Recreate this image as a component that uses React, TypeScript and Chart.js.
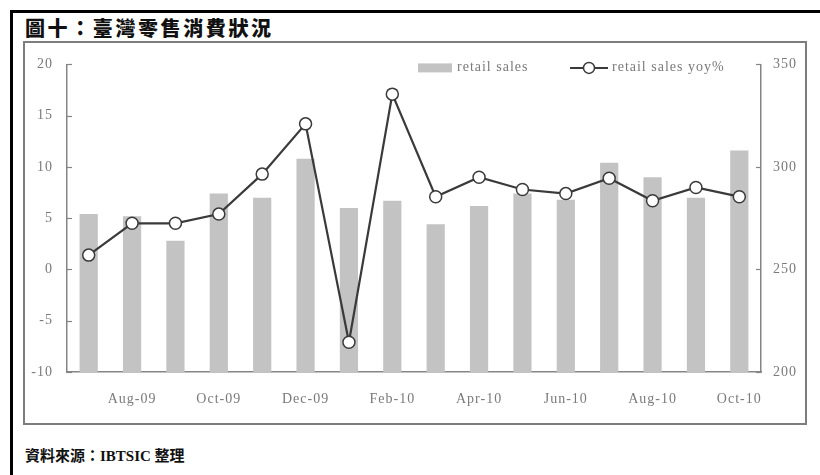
import React, { useEffect, useRef } from 'react';
import { Chart, registerables } from 'chart.js';

Chart.register(...registerables);

const titleText = '圖十：臺灣零售消費狀況';
const sourceText = '資料來源：IBTSIC 整理';

const months = ['Jul-09', 'Aug-09', 'Sep-09', 'Oct-09', 'Nov-09', 'Dec-09', 'Jan-10', 'Feb-10', 'Mar-10', 'Apr-10', 'May-10', 'Jun-10', 'Jul-10', 'Aug-10', 'Sep-10', 'Oct-10'];
const retailSales = [277, 276, 264, 287, 285, 304, 280, 283.5, 272, 281, 287, 284, 302, 295, 285, 308];
const retailSalesYoy = [1.4, 4.5, 4.5, 5.4, 9.3, 14.2, -7.1, 17.1, 7.1, 9.0, 7.8, 7.4, 8.9, 6.7, 8.0, 7.1];
const yoyTicks = [-10, -5, 0, 5, 10, 15, 20];
const salesTicks = [200, 250, 300, 350];
const seriesNames = ['retail sales', 'retail sales yoy%'];

const BAR_COLOR = '#c3c3c3';
const LINE_COLOR = '#3a3a3a';
const AXIS_COLOR = '#858585';
const TEXT_COLOR = '#7a7a7a';
const SERIF = "'Liberation Serif', 'Times New Roman', serif";

const spacingPlugin = {
  id: 'spacing',
  beforeDraw(chart: any) {
    (chart.ctx as any).letterSpacing = '1px';
  },
};

const insideTicks = {
  id: 'insideTicks',
  beforeDatasetsDraw(chart: any) {
    const { ctx, chartArea, scales } = chart;
    ctx.save();
    ctx.strokeStyle = AXIS_COLOR;
    ctx.lineWidth = 1.2;
    scales.y.ticks.forEach((t: any) => {
      const py = Math.round(scales.y.getPixelForValue(t.value)) + 0.5;
      ctx.beginPath();
      ctx.moveTo(chartArea.left, py);
      ctx.lineTo(chartArea.left + 5, py);
      ctx.stroke();
    });
    scales.y1.ticks.forEach((t: any) => {
      const py = Math.round(scales.y1.getPixelForValue(t.value)) + 0.5;
      ctx.beginPath();
      ctx.moveTo(chartArea.right, py);
      ctx.lineTo(chartArea.right - 5, py);
      ctx.stroke();
    });
    ctx.restore();
  },
};

const customLegend = {
  id: 'customLegend',
  afterDraw(chart: any) {
    const { ctx, chartArea } = chart;
    const y = chartArea.top + 3;
    ctx.save();
    ctx.letterSpacing = '1px';
    ctx.font = `14px ${SERIF}`;
    ctx.textBaseline = 'middle';
    ctx.textAlign = 'left';
    // bar legend
    const bx = chartArea.left + 351;
    ctx.fillStyle = BAR_COLOR;
    ctx.fillRect(bx, y - 4, 34, 9);
    ctx.fillStyle = TEXT_COLOR;
    ctx.fillText(seriesNames[0], bx + 39, y);
    // line legend
    const lx = chartArea.left + 503;
    ctx.strokeStyle = LINE_COLOR;
    ctx.lineWidth = 2;
    ctx.beginPath();
    ctx.moveTo(lx, y + 0.5);
    ctx.lineTo(lx + 38, y + 0.5);
    ctx.stroke();
    ctx.beginPath();
    ctx.arc(lx + 19, y + 0.5, 5.5, 0, Math.PI * 2);
    ctx.fillStyle = '#ffffff';
    ctx.fill();
    ctx.lineWidth = 1.5;
    ctx.stroke();
    ctx.fillStyle = TEXT_COLOR;
    ctx.fillText(seriesNames[1], lx + 42, y);
    ctx.restore();
  },
};

function ChartCanvas() {
  const ref = useRef<HTMLCanvasElement | null>(null);
  useEffect(() => {
    if (!ref.current) return;
    const chart = new Chart(ref.current, {
      type: 'bar',
      data: {
        labels: months,
        datasets: [
          {
            type: 'line',
            label: seriesNames[1],
            data: retailSalesYoy,
            yAxisID: 'y',
            borderColor: LINE_COLOR,
            borderWidth: 2.2,
            pointRadius: 6,
            pointBackgroundColor: '#ffffff',
            pointBorderColor: LINE_COLOR,
            pointBorderWidth: 1.5,
            tension: 0,
            order: 0,
          } as any,
          {
            type: 'bar',
            label: seriesNames[0],
            data: retailSales,
            yAxisID: 'y1',
            backgroundColor: BAR_COLOR,
            borderWidth: 0,
            categoryPercentage: 1,
            barPercentage: 0.42,
            order: 1,
          } as any,
        ],
      },
      options: {
        responsive: false,
        animation: false,
        devicePixelRatio: 1,
        layout: { padding: { top: 22, left: 0, right: 0, bottom: 0 } },
        plugins: {
          legend: { display: false },
          tooltip: { enabled: false },
          title: { display: false },
        },
        scales: {
          x: {
            type: 'category',
            offset: true,
            grid: { display: false, drawTicks: false },
            border: { display: true, color: AXIS_COLOR, width: 1.5 },
            ticks: {
              autoSkip: false,
              maxRotation: 0,
              padding: 19,
              color: TEXT_COLOR,
              font: { family: SERIF, size: 14 },
              callback: (_v: any, i: number) => (i % 2 === 1 ? months[i] : ''),
            },
            afterFit: (s: any) => { s.height = 51; },
          },
          y: {
            type: 'linear',
            position: 'left',
            min: -10,
            max: 20,
            grid: { display: false, drawTicks: false },
            border: { display: true, color: AXIS_COLOR, width: 1.5 },
            ticks: {
              padding: 14,
              color: TEXT_COLOR,
              font: { family: SERIF, size: 14 },
            },
            afterBuildTicks: (s: any) => { s.ticks = yoyTicks.map((v) => ({ value: v })); },
            afterFit: (s: any) => { s.width = 43; },
          },
          y1: {
            type: 'linear',
            position: 'right',
            min: 200,
            max: 350,
            grid: { display: false, drawTicks: false },
            border: { display: true, color: AXIS_COLOR, width: 1.5 },
            ticks: {
              padding: 12,
              color: TEXT_COLOR,
              font: { family: SERIF, size: 14 },
            },
            afterBuildTicks: (s: any) => { s.ticks = salesTicks.map((v) => ({ value: v })); },
            afterFit: (s: any) => { s.width = 44; },
          },
        },
      },
      plugins: [spacingPlugin, insideTicks, customLegend],
    } as any);
    return () => chart.destroy();
  }, []);
  return (
    <canvas
      ref={ref}
      width={781}
      height={381}
      style={{ position: 'absolute', left: 24, top: 42, width: 781, height: 381 }}
    />
  );
}

export default function App() {
  return (
    <div
      style={{
        position: 'fixed',
        left: 0,
        top: 0,
        width: 820,
        height: 475,
        background: '#ffffff',
        overflow: 'hidden',
      }}
    >
      <div
        style={{
          position: 'absolute',
          left: 10,
          top: 10,
          width: 820,
          height: 480,
          borderTop: '3px solid #000',
          borderLeft: '3px solid #000',
          boxSizing: 'border-box',
        }}
      />
      <div
        style={{
          position: 'absolute',
          left: 25,
          top: 15,
          fontFamily: "'Noto Sans CJK TC', 'Noto Sans CJK SC', sans-serif",
          fontWeight: 900,
          fontSize: 20,
          letterSpacing: 2.6,
          lineHeight: '26px',
          color: '#111',
          whiteSpace: 'nowrap',
        }}
      >
        {titleText}
      </div>
      <div
        style={{
          position: 'absolute',
          left: 23,
          top: 41,
          width: 784,
          height: 384,
          border: '2px solid #7d7d7d',
          boxSizing: 'border-box',
        }}
      />
      <ChartCanvas />
      <div
        style={{
          position: 'absolute',
          left: 25,
          top: 446,
          fontFamily: "'Liberation Serif', 'Noto Sans CJK TC', serif",
          fontWeight: 700,
          fontSize: 15,
          lineHeight: '20px',
          color: '#111',
          whiteSpace: 'nowrap',
        }}
      >
        {sourceText}
      </div>
    </div>
  );
}
